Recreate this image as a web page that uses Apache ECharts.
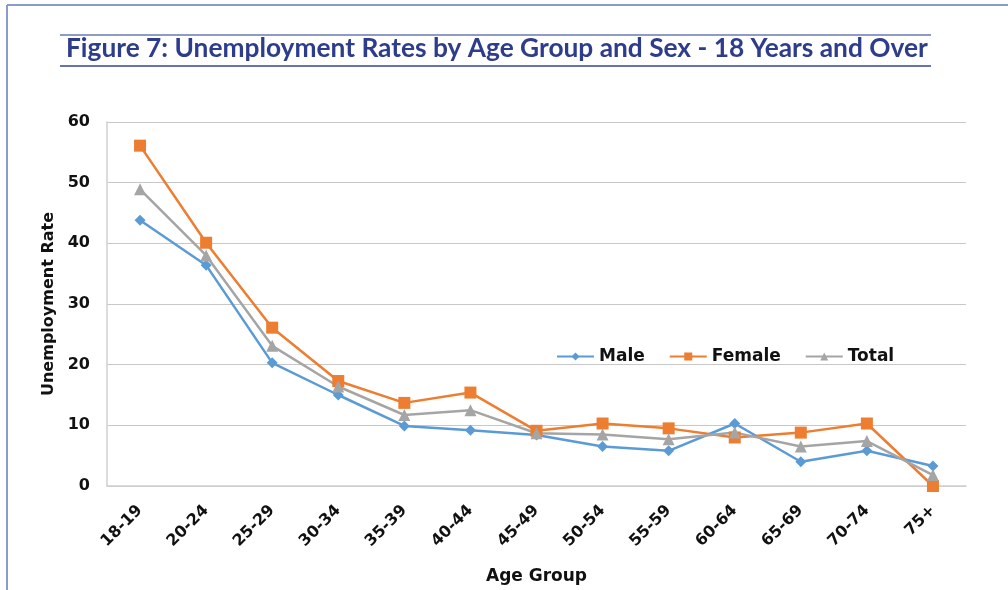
<!DOCTYPE html>
<html>
<head>
<meta charset="utf-8">
<script src="https://cdn.jsdelivr.net/npm/echarts@6/dist/echarts.min.js"></script>
<style>
  html, body { margin: 0; padding: 0; background: #fff; }
  #chart { width: 1008px; height: 590px; }
</style>
</head>
<body>
<div id="chart"></div>
<script>
const ageGroups = ["18-19", "20-24", "25-29", "30-34", "35-39", "40-44", "45-49",
  "50-54", "55-59", "60-64", "65-69", "70-74", "75+"];
const male = [43.8, 36.4, 20.3, 15.0, 9.9, 9.2, 8.4, 6.5, 5.8, 10.3, 4.0, 5.8, 3.3];
const female = [56.1, 40.1, 26.1, 17.3, 13.7, 15.4, 9.1, 10.3, 9.5, 8.0, 8.8, 10.3, 0.0];
const total = [48.9, 38.0, 23.1, 16.4, 11.7, 12.5, 8.7, 8.5, 7.7, 8.8, 6.5, 7.4, 1.8];
const yTicks = [0, 10, 20, 30, 40, 50, 60];

const titleFont = "Lato, 'Open Sans', sans-serif";
const font = "'DejaVu Sans', Verdana, sans-serif";
const chart = echarts.init(document.getElementById("chart"));

function lineSeries(name, data, color, symbol, size) {
  return {
    name: name,
    type: "line",
    data: data,
    symbol: symbol,
    symbolSize: size,
    lineStyle: { color: color, width: 2.5 },
    itemStyle: { color: color }
  };
}

chart.setOption({
  animation: false,
  graphic: [
    // page frame
    { type: "line", shape: { x1: 7, y1: 5, x2: 7, y2: 590 }, style: { stroke: "#8a9bc9", lineWidth: 2 } },
    { type: "line", shape: { x1: 7, y1: 5, x2: 1008, y2: 5 }, style: { stroke: "#8a9bc9", lineWidth: 2 } },
    // title rules
    { type: "line", shape: { x1: 60, y1: 35, x2: 931, y2: 35 }, style: { stroke: "#8e9bc6", lineWidth: 2 } },
    { type: "line", shape: { x1: 60, y1: 66, x2: 931, y2: 66 }, style: { stroke: "#34449a", lineWidth: 1.5 } },
    {
      type: "text", left: 66, top: 36,
      style: {
        text: "Figure 7: Unemployment Rates by Age Group and Sex - 18 Years and Over",
        font: "bold 26.3px " + titleFont,
        fill: "#2e3c8c"
      }
    }
  ],
  legend: {
    left: 551, top: 343,
    itemWidth: 37, itemHeight: 10, itemGap: 24,
    textStyle: { fontFamily: font, fontWeight: "bold", fontSize: 17, color: "#111" },
    data: ["Male", "Female", "Total"]
  },
  grid: { left: 107, right: 42, top: 122, bottom: 104 },
  xAxis: {
    type: "category",
    data: ageGroups,
    name: "Age Group",
    nameLocation: "middle",
    nameGap: 82,
    nameTextStyle: { fontFamily: font, fontWeight: "bold", fontSize: 17, color: "#111" },
    axisLine: { lineStyle: { color: "#d0d0d0", width: 1.5 } },
    axisTick: { show: false },
    axisLabel: {
      rotate: 45, interval: 0, margin: 22,
      fontFamily: font, fontWeight: "bold", fontSize: 16, color: "#111"
    }
  },
  yAxis: {
    type: "value",
    min: yTicks[0], max: yTicks[yTicks.length - 1], interval: 10,
    name: "Unemployment Rate",
    nameLocation: "middle",
    nameGap: 49,
    nameTextStyle: { fontFamily: font, fontWeight: "bold", fontSize: 16, color: "#111" },
    axisLine: { show: true, lineStyle: { color: "#d0d0d0", width: 1.5 } },
    axisTick: { show: false },
    axisLabel: { margin: 17, fontFamily: font, fontWeight: "bold", fontSize: 16, color: "#111" },
    splitLine: { lineStyle: { color: "#c8c8c8", width: 1.2 } }
  },
  series: [
    lineSeries("Male", male, "#5b9bd5", "diamond", 11),
    lineSeries("Female", female, "#ed7d31", "rect", 12),
    lineSeries("Total", total, "#a5a5a5", "triangle", 12)
  ]
});
</script>
</body>
</html>
